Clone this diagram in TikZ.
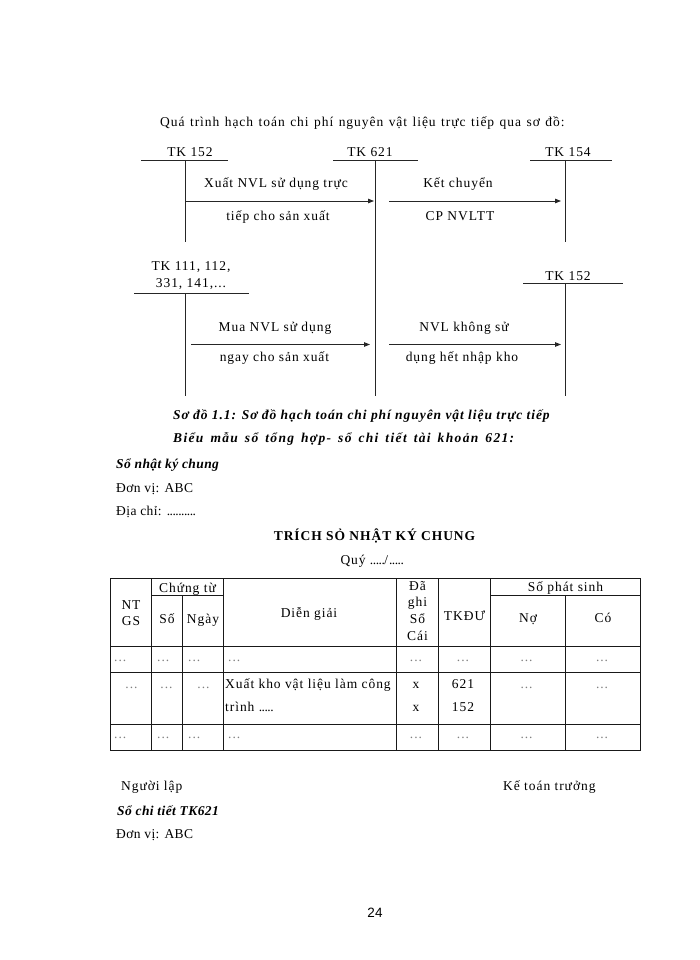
\documentclass[tikz,border=0pt]{standalone}
\usepackage{fontspec}
\setmainfont{Liberation Serif}[LetterSpace=7]
\newfontfamily\tightserif{Liberation Serif}[LetterSpace=3]
\newfontfamily\wideserif{Liberation Serif}[LetterSpace=10]
\newfontfamily\pagenumfont{Liberation Sans}
\newcommand\pdot{.\kern-0.5pt}
\usetikzlibrary{arrows.meta}
\begin{document}
\begin{tikzpicture}[x=1pt,y=-1pt,
  txt/.style={inner sep=0pt,font=\fontsize{13.5}{16}\selectfont},
  bit/.style={txt,font=\fontsize{13.5}{16}\selectfont\bfseries\itshape},
  lbl/.style={txt,font=\fontsize{13.5}{16}\selectfont\tightserif},
  tline/.style={line width=0.8pt,draw=black!85},
  flow/.style={line width=0.8pt,draw=black!85,-{Triangle[length=6pt,width=4.5pt]}},
  grid/.style={line width=1pt,draw=black!90},
  dots/.style={txt,text=black!50},
]
\useasboundingbox (0,0) rectangle (700,960);
\fill[white] (0,0) rectangle (700,960);

% intro
\node[txt,anchor=base west] (intro) at (160,127) {\spaceskip=5.5pt plus 1pt Quá trình hạch toán chi phí nguyên vật liệu trực tiếp qua sơ đồ:};

% T-account TK 152 (top left)
\node[txt,anchor=base] (tkA) at (190,156.5) {TK 152};
\coordinate (aL) at (141,160); \coordinate (aR) at (228,160);
\coordinate (aT) at (185,160); \coordinate (aB) at (185,242);
\draw[tline] (aL) -- (aR); \draw[tline] (aT) -- (aB);

% T-account TK 621
\node[txt,anchor=base] (tkB) at (370,156.5) {TK 621};
\coordinate (bL) at (333,160); \coordinate (bR) at (418,160);
\coordinate (bT) at (375,160); \coordinate (bB) at (375,396);
\draw[tline] (bL) -- (bR); \draw[tline] (bT) -- (bB);

% T-account TK 154
\node[txt,anchor=base] (tkC) at (568,156.5) {TK 154};
\coordinate (cL) at (530,160); \coordinate (cR) at (612,160);
\coordinate (cT) at (565,160); \coordinate (cB) at (565,242);
\draw[tline] (cL) -- (cR); \draw[tline] (cT) -- (cB);

% T-account TK 111...
\node[txt,anchor=base] (tkD1) at (191,270.5) {TK 111, 112,};
\node[txt,anchor=base] (tkD2) at (191,287) {331, 141,...};
\coordinate (dL) at (134,293); \coordinate (dR) at (249,293);
\coordinate (dT) at (185,293); \coordinate (dB) at (185,396);
\draw[tline] (dL) -- (dR); \draw[tline] (dT) -- (dB);

% T-account TK 152 (right)
\node[txt,anchor=base] (tkE) at (568,280) {TK 152};
\coordinate (eL) at (523,283); \coordinate (eR) at (623,283);
\coordinate (eT) at (565,283); \coordinate (eB) at (565,396);
\draw[tline] (eL) -- (eR); \draw[tline] (eT) -- (eB);

% arrows row 1
\coordinate (f1s) at (185,201); \coordinate (f1e) at (374,201);
\coordinate (f2s) at (389,201); \coordinate (f2e) at (561,201);
\draw[flow] (f1s) -- (f1e);
\draw[flow] (f2s) -- (f2e);
\node[txt,anchor=base] (l1a) at (276,187.5) {Xuất NVL sử dụng trực};
\node[txt,anchor=base] (l1b) at (278,220) {tiếp cho sản xuất};
\node[txt,anchor=base] (l2a) at (458,187.5) {Kết chuyển};
\node[txt,anchor=base] (l2b) at (460,220) {CP NVLTT};

% arrows row 2
\coordinate (f3s) at (191,344.5); \coordinate (f3e) at (370,344.5);
\coordinate (f4s) at (389,344.5); \coordinate (f4e) at (561,344.5);
\draw[flow] (f3s) -- (f3e);
\draw[flow] (f4s) -- (f4e);
\node[txt,anchor=base] (l3a) at (275,331.7) {Mua NVL sử dụng};
\node[txt,anchor=base] (l3b) at (274.5,361.7) {ngay cho sản xuất};
\node[txt,anchor=base] (l4a) at (464,331.7) {NVL không sử};
\node[txt,anchor=base] (l4b) at (462,361.7) {dụng hết nhập kho};

% captions
\node[bit,anchor=base west] (cap1) at (173,419) {Sơ đồ 1.1: Sơ đồ hạch toán chi phí nguyên vật liệu trực tiếp};
\node[bit,anchor=base west,font=\fontsize{13.5}{16}\selectfont\wideserif\bfseries\itshape] (cap2) at (173,442) {\spaceskip=7pt plus 1pt Biểu mẫu sổ tổng hợp- sổ chi tiết tài khoản 621:};

\node[lbl,anchor=base west,font=\fontsize{13.5}{16}\selectfont\tightserif\bfseries\itshape] (snkc) at (116,468.5) {Sổ nhật ký chung};
\node[lbl,anchor=base west] (donvi1) at (116,492) {Đơn vị: ABC};
\node[lbl,anchor=base west] (diachi) at (116,515.5) {Địa chỉ: \pdot\pdot\pdot\pdot\pdot\pdot\pdot\pdot\pdot\pdot};
\node[txt,anchor=base,font=\fontsize{13.5}{16}\selectfont\bfseries] (ttl) at (374.5,540.5) {TRÍCH SỎ NHẬT KÝ CHUNG};
\node[txt,anchor=base] (quy) at (372,564) {Quý \pdot\pdot\pdot\pdot\pdot/\pdot\pdot\pdot\pdot\pdot};

% table grid
\coordinate (t00) at (110.5,578); \coordinate (t88) at (640,750.5);
\draw[grid] (t00) rectangle (t88);
\foreach \yy in {646.5,672.5,724} \draw[grid] (110.5,\yy) -- (640,\yy);
\draw[grid] (151.5,595.5) -- (223.5,595.5);
\draw[grid] (490.5,595.5) -- (640,595.5);
\foreach \xx in {151.5,223.5,396.5,438.5,490.5} \draw[grid] (\xx,578) -- (\xx,750.5);
\foreach \xx in {182.5,565.5} \draw[grid] (\xx,595.5) -- (\xx,750.5);

% header
\node[txt,anchor=base] (hNT) at (131,609) {NT};
\node[txt,anchor=base] (hGS) at (131,625) {GS};
\node[txt,anchor=base] (hCT) at (187.5,592.5) {Chứng từ};
\node[txt,anchor=base] (hSo) at (167,623) {Số};
\node[txt,anchor=base] (hNg) at (203,623) {Ngày};
\node[txt,anchor=base] (hDG) at (309,617) {Diễn giải};
\node[txt,anchor=base] (hDa) at (417.5,590) {Đã};
\node[txt,anchor=base] (hGhi) at (417.5,606) {ghi};
\node[txt,anchor=base] (hSoC) at (417.5,623) {Sổ};
\node[txt,anchor=base] (hCai) at (417.5,640) {Cái};
\node[txt,anchor=base] (hTK) at (464.5,620) {TKĐƯ};
\node[txt,anchor=base] (hSPS) at (565.5,591) {Số phát sinh};
\node[txt,anchor=base] (hNo) at (528,622) {Nợ};
\node[txt,anchor=base] (hCo) at (603,622) {Có};

% row 1
\node[dots,anchor=base west] (r1c1) at (114,661) {...};
\node[dots,anchor=base west] (r1c2) at (157,661) {...};
\node[dots,anchor=base west] (r1c3) at (188,661) {...};
\node[dots,anchor=base west] (r1c4) at (228,661) {...};
\node[dots,anchor=base] (r1c5) at (416,661) {...};
\node[dots,anchor=base] (r1c6) at (463,661) {...};
\node[dots,anchor=base] (r1c7) at (526.5,661) {...};
\node[dots,anchor=base] (r1c8) at (602,661) {...};

% row 2
\node[dots,anchor=base] (r2c1) at (131.5,688) {...};
\node[dots,anchor=base] (r2c2) at (166.5,688) {...};
\node[dots,anchor=base] (r2c3) at (203.5,688) {...};
\node[txt,anchor=base west] (r2c4a) at (225,688) {Xuất kho vật liệu làm công};
\node[txt,anchor=base west] (r2c4b) at (225,711) {trình \pdot\pdot\pdot\pdot\pdot};
\node[txt,anchor=base] (r2c5a) at (416,688) {x};
\node[txt,anchor=base] (r2c5b) at (416,711) {x};
\node[txt,anchor=base] (r2c6a) at (463,688) {621};
\node[txt,anchor=base] (r2c6b) at (463,711) {152};
\node[dots,anchor=base] (r2c7) at (526.5,688) {...};
\node[dots,anchor=base] (r2c8) at (602,688) {...};

% row 3
\node[dots,anchor=base west] (r3c1) at (114,738) {...};
\node[dots,anchor=base west] (r3c2) at (157,738) {...};
\node[dots,anchor=base west] (r3c3) at (188,738) {...};
\node[dots,anchor=base west] (r3c4) at (228,738) {...};
\node[dots,anchor=base] (r3c5) at (416,738) {...};
\node[dots,anchor=base] (r3c6) at (463,738) {...};
\node[dots,anchor=base] (r3c7) at (526.5,738) {...};
\node[dots,anchor=base] (r3c8) at (602,738) {...};

% footer
\node[txt,anchor=base west] (nguoilap) at (121,790) {Người lập};
\node[txt,anchor=base west] (ketoan) at (503,790) {Kế toán trưởng};
\node[lbl,anchor=base west,font=\fontsize{13.5}{16}\selectfont\tightserif\bfseries\itshape] (sct) at (117,815) {Sổ chi tiết TK621};
\node[lbl,anchor=base west] (donvi2) at (116,838) {Đơn vị: ABC};
\node[txt,anchor=base,font=\fontsize{13.5}{16}\pagenumfont] (pg) at (375,917) {24};
\end{tikzpicture}
\end{document}
